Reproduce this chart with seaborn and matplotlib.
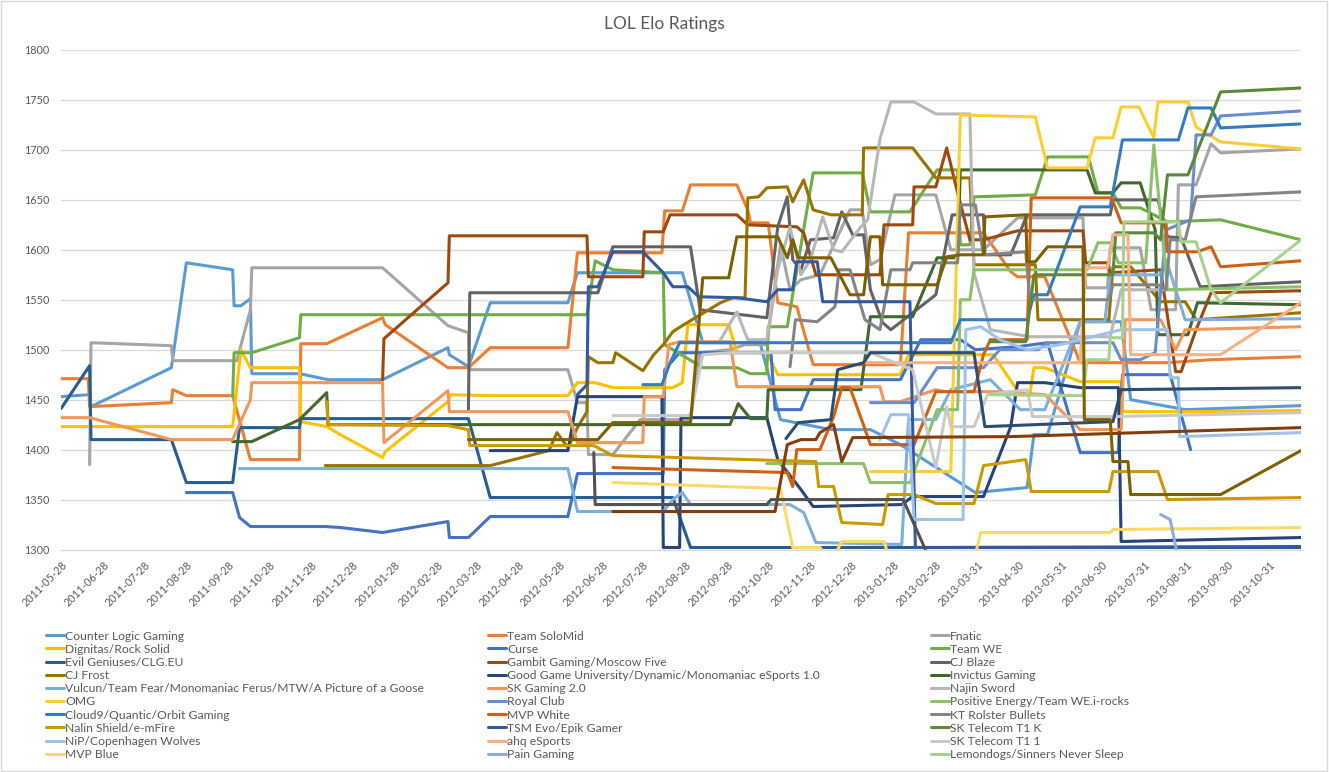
import matplotlib
matplotlib.use("Agg")
import matplotlib.pyplot as plt
import pandas as pd
import seaborn as sns

START = pd.Timestamp("2011-05-28")
END_DAY = 910

# days since 2011-05-28, elo rating
clg_day = [0, 21, 22, 81, 92, 126, 127, 132, 139, 140, 175, 196, 236, 284, 285, 299, 315, 372, 379, 456,
           471, 513, 528, 565, 594, 616, 671, 709, 714, 724, 748, 778, 785, 825, 910]
clg_elo = [1453, 1455, 1443, 1482, 1587, 1580, 1544, 1544, 1551, 1476, 1476, 1470, 1470, 1502, 1495, 1483, 1547,
           1547, 1577, 1577, 1507, 1507, 1430, 1420, 1420, 1405, 1357, 1362, 1415, 1415, 1528, 1528, 1450, 1440, 1444]

tsm_day = [0, 20, 21, 81, 82, 92, 126, 139, 175, 176, 195, 236, 238, 284, 299, 315, 372, 379, 441, 443,
           456, 462, 496, 504, 506, 519, 526, 540, 552, 616, 622, 677, 697, 702, 722, 748, 812, 844, 910]
tsm_elo = [1471, 1471, 1443, 1447, 1460, 1454, 1454, 1390, 1390, 1506, 1506, 1532, 1525, 1482, 1482, 1502, 1502,
           1597, 1597, 1639, 1639, 1665, 1665, 1640, 1627, 1627, 1547, 1543, 1485, 1485, 1617, 1617, 1578, 1573,
           1573, 1487, 1487, 1490, 1493]

fnc_day = [21, 22, 81, 82, 129, 139, 140, 236, 284, 299, 300, 372, 379, 386, 387, 405, 425, 462, 469, 491,
           502, 518, 528, 535, 543, 557, 579, 588, 594, 601, 612, 642, 653, 677, 702, 750, 752, 768, 770, 792,
           800, 818, 820, 833, 844, 851, 910]
fnc_elo = [1385, 1507, 1504, 1489, 1489, 1540, 1582, 1582, 1524, 1517, 1480, 1480, 1447, 1447, 1395, 1395, 1430,
           1430, 1497, 1500, 1505, 1505, 1605, 1560, 1570, 1575, 1640, 1640, 1585, 1590, 1655, 1655, 1600, 1600,
           1632, 1632, 1562, 1562, 1602, 1602, 1540, 1540, 1665, 1665, 1706, 1697, 1701]

dig_day = [0, 126, 132, 139, 175, 176, 195, 205, 236, 238, 284, 286, 315, 372, 379, 392, 405, 449, 456, 460,
           490, 496, 518, 526, 616, 622, 684, 704, 711, 714, 722, 748, 778, 779, 825, 910]
dig_elo = [1423, 1423, 1500, 1482, 1482, 1428, 1423, 1415, 1392, 1398, 1448, 1455, 1454, 1454, 1467, 1467, 1462,
           1462, 1467, 1525, 1525, 1497, 1497, 1475, 1475, 1495, 1495, 1455, 1455, 1482, 1482, 1468, 1468, 1438,
           1438, 1439]

crs_day = [92, 126, 131, 139, 194, 205, 236, 284, 285, 299, 315, 372, 379, 442, 443, 454, 521, 524, 543, 552,
           616, 631, 660, 671, 702, 724, 748, 776, 779, 814, 829]
crs_elo = [1357, 1357, 1332, 1323, 1323, 1322, 1317, 1328, 1312, 1312, 1333, 1333, 1376, 1376, 1480, 1497, 1497,
           1440, 1440, 1470, 1470, 1510, 1510, 1500, 1503, 1507, 1397, 1397, 1475, 1475, 1400]

we_day = [126, 127, 140, 175, 176, 205, 386, 392, 405, 442, 443, 471, 496, 506, 518, 519, 533, 552, 588, 594,
          623, 643, 658, 660, 667, 670, 715, 724, 754, 761, 772, 778, 792, 812, 851, 910]
we_elo = [1453, 1497, 1497, 1512, 1535, 1535, 1535, 1589, 1580, 1577, 1505, 1482, 1482, 1476, 1476, 1523, 1523,
          1677, 1677, 1638, 1638, 1680, 1680, 1605, 1605, 1653, 1655, 1693, 1693, 1657, 1657, 1642, 1642, 1628,
          1630, 1610]

eg_day = [0, 21, 22, 81, 92, 126, 131, 175, 176, 299, 315, 449, 462, 910]
eg_elo = [1441, 1484, 1410, 1410, 1367, 1367, 1422, 1422, 1431, 1431, 1352, 1352, 1302, 1302]

gmb_day = [236, 237, 284, 285, 386, 387, 427, 428, 442, 447, 496, 504, 540, 545, 554, 601, 604, 625, 626, 642,
           650, 658, 667, 677, 702, 750, 752, 768, 770, 807, 818, 822, 833, 844, 910]
gmb_elo = [1470, 1511, 1567, 1614, 1614, 1573, 1573, 1618, 1618, 1635, 1635, 1625, 1623, 1617, 1575, 1575, 1625,
           1625, 1663, 1663, 1702, 1657, 1610, 1610, 1619, 1619, 1587, 1587, 1577, 1580, 1478, 1478, 1520, 1557, 1559]

cjb_day = [299, 300, 394, 405, 462, 469, 518, 526, 533, 537, 543, 550, 567, 573, 581, 589, 594, 603, 609, 642,
           654, 677, 678, 697, 709, 770, 772, 805, 812, 822, 836, 910]
cjb_elo = [1440, 1557, 1557, 1603, 1603, 1540, 1532, 1623, 1653, 1590, 1580, 1610, 1612, 1638, 1615, 1615, 1560,
           1527, 1520, 1555, 1635, 1635, 1595, 1595, 1635, 1635, 1650, 1650, 1613, 1612, 1563, 1568]

cjf_day = [194, 315, 358, 364, 372, 379, 386, 387, 394, 405, 407, 427, 435, 442, 449, 457, 484, 493, 502, 504,
           512, 518, 533, 537, 545, 552, 565, 588, 589, 625, 642, 667, 670, 715, 717, 769, 772, 785, 807, 825,
           833, 910]
cjf_elo = [1384, 1384, 1399, 1417, 1402, 1422, 1438, 1493, 1487, 1487, 1497, 1479, 1495, 1505, 1518, 1525, 1547,
           1552, 1552, 1652, 1653, 1662, 1663, 1648, 1670, 1640, 1635, 1635, 1702, 1702, 1672, 1672, 1585, 1585,
           1530, 1530, 1583, 1583, 1548, 1548, 1530, 1537]

ggu_day = [315, 372, 379, 441, 442, 454, 455, 518, 526, 543, 552, 617, 625, 677, 697, 702, 722, 748, 776, 778, 910]
ggu_elo = [1399, 1399, 1453, 1453, 1302, 1302, 1432, 1432, 1390, 1360, 1343, 1345, 1353, 1353, 1423, 1467, 1467,
           1462, 1462, 1308, 1312]

ig_day = [126, 140, 175, 195, 196, 491, 497, 506, 518, 519, 587, 594, 625, 643, 658, 660, 753, 759, 772, 778,
          792, 803, 805, 827, 834, 910]
ig_elo = [1408, 1408, 1430, 1457, 1425, 1425, 1446, 1431, 1431, 1460, 1460, 1533, 1533, 1592, 1592, 1680, 1680,
          1657, 1657, 1667, 1667, 1620, 1515, 1515, 1547, 1545]

vul_day = [131, 372, 379, 442, 449, 456, 462, 535, 545, 554, 617, 622, 642, 653, 682, 704, 722, 748, 766, 770,
           807, 811, 825, 910]
vul_elo = [1381, 1381, 1338, 1338, 1350, 1357, 1345, 1345, 1337, 1307, 1305, 1430, 1430, 1460, 1470, 1440, 1440,
           1528, 1528, 1575, 1575, 1590, 1530, 1531]

sk2_day = [0, 21, 81, 126, 139, 140, 236, 237, 284, 285, 372, 379, 427, 428, 442, 446, 454, 491, 496, 601,
           604, 616, 642, 649, 689, 722, 748, 778, 781, 807, 818, 825, 910]
sk2_elo = [1432, 1432, 1410, 1410, 1450, 1467, 1467, 1407, 1459, 1438, 1438, 1407, 1407, 1453, 1453, 1505, 1508,
           1508, 1463, 1463, 1448, 1448, 1460, 1458, 1458, 1455, 1420, 1420, 1530, 1530, 1500, 1520, 1523]

njs_day = [484, 496, 504, 518, 526, 535, 543, 550, 559, 567, 573, 587, 592, 601, 609, 626, 642, 667, 670, 682,
           711, 770, 778, 825]
njs_elo = [1510, 1538, 1510, 1510, 1580, 1623, 1575, 1590, 1633, 1600, 1598, 1623, 1630, 1711, 1748, 1748, 1736,
           1736, 1577, 1520, 1513, 1513, 1560, 1560]

omg_day = [594, 653, 660, 715, 724, 753, 759, 772, 778, 791, 802, 805, 827, 833, 851, 910]
omg_elo = [1378, 1378, 1735, 1733, 1682, 1682, 1712, 1712, 1743, 1743, 1712, 1748, 1748, 1723, 1708, 1701]

rc_day = [594, 626, 643, 677, 689, 717, 724, 772, 778, 792, 803, 811, 829, 833, 844, 851, 910]
rc_elo = [1447, 1447, 1482, 1482, 1500, 1500, 1507, 1507, 1490, 1490, 1497, 1620, 1630, 1715, 1715, 1734, 1739]

pe_day = [518, 589, 594, 623, 643, 658, 660, 667, 670, 753, 761, 770, 776, 796, 802, 812, 910]
pe_elo = [1386, 1386, 1367, 1367, 1440, 1440, 1550, 1550, 1580, 1580, 1607, 1607, 1587, 1587, 1705, 1560, 1563]

c9_day = [427, 441, 447, 454, 653, 660, 709, 714, 724, 748, 770, 779, 820, 827, 844, 851, 910]
c9_elo = [1465, 1465, 1487, 1507, 1507, 1530, 1530, 1555, 1555, 1643, 1643, 1710, 1710, 1742, 1742, 1722, 1726]

mvpw_day = [405, 533, 537, 540, 557, 567, 573, 579, 587, 594, 626, 642, 670, 677, 682, 709, 712, 771, 778, 811,
            812, 834, 844, 851, 910]
mvpw_elo = [1382, 1377, 1363, 1400, 1400, 1433, 1462, 1462, 1432, 1405, 1405, 1458, 1458, 1495, 1510, 1510, 1652,
            1652, 1627, 1627, 1598, 1598, 1603, 1583, 1589]

kt_day = [535, 539, 555, 568, 571, 579, 590, 601, 609, 623, 625, 658, 660, 671, 677, 708, 711, 769, 772, 805,
          811, 814, 825, 833, 910]
kt_elo = [1483, 1530, 1528, 1543, 1580, 1580, 1530, 1520, 1580, 1580, 1587, 1587, 1645, 1645, 1595, 1598, 1550,
          1550, 1565, 1565, 1560, 1610, 1610, 1653, 1658]

nal_day = [195, 196, 284, 299, 300, 391, 405, 554, 556, 567, 573, 603, 607, 626, 642, 670, 677, 708, 712, 769,
           772, 805, 812, 910]
nal_elo = [1448, 1425, 1424, 1420, 1404, 1404, 1394, 1388, 1363, 1363, 1327, 1325, 1355, 1355, 1346, 1346, 1384,
           1390, 1358, 1358, 1378, 1378, 1350, 1352]

evo_day = [379, 386, 387, 394, 405, 427, 442, 449, 460, 468, 496, 518, 526, 537, 540, 555, 559, 623, 627, 910]
evo_elo = [1455, 1465, 1563, 1563, 1598, 1598, 1577, 1563, 1563, 1553, 1552, 1548, 1560, 1560, 1588, 1588, 1548,
           1548, 1302, 1303]

sktk_day = [682, 708, 714, 772, 774, 802, 807, 812, 827, 851, 910]
sktk_elo = [1508, 1508, 1575, 1575, 1617, 1617, 1610, 1675, 1675, 1758, 1762]

nip_day = [601, 609, 622, 626, 662, 664, 675, 689, 709, 733, 778, 812, 814, 820, 821, 910]
nip_elo = [1410, 1435, 1435, 1330, 1330, 1520, 1523, 1510, 1500, 1505, 1520, 1520, 1472, 1472, 1413, 1417]

ahq_day = [589, 748, 752, 768, 772, 783, 785, 851, 910]
ahq_elo = [1487, 1487, 1582, 1582, 1615, 1615, 1495, 1495, 1547]

skt1_day = [405, 462, 471, 491, 594, 625, 642, 650, 653, 670, 680, 709, 713, 771, 910]
skt1_elo = [1434, 1434, 1495, 1497, 1497, 1480, 1382, 1443, 1423, 1423, 1455, 1460, 1433, 1433, 1437]

mvpb_day = [405, 528, 537, 557, 561, 568, 573, 604, 607, 671, 675, 770, 772, 910]
mvpb_elo = [1367, 1361, 1302, 1302, 1295, 1295, 1308, 1308, 1295, 1295, 1317, 1317, 1320, 1322]

pain_day = [807, 814, 820]
pain_elo = [1335, 1330, 1290]

ld_day = [682, 750, 753, 769, 770, 779, 780, 820, 822, 833, 844, 851, 910]
ld_elo = [1455, 1454, 1490, 1490, 1512, 1512, 1628, 1628, 1608, 1608, 1560, 1547, 1610]

# series past the 30th, which the legend had no room for
x31_day = [532, 541, 565, 570, 589, 594, 670, 678, 772, 778, 910]
x31_elo = [1411, 1427, 1430, 1480, 1487, 1497, 1497, 1423, 1428, 1460, 1462]
x32_day = [405, 524, 533, 543, 554, 557, 567, 573, 581, 697, 910]
x32_elo = [1338, 1338, 1405, 1410, 1410, 1417, 1425, 1388, 1412, 1413, 1422]
x33_day = [391, 392, 518, 521, 618, 636]
x33_elo = [1397, 1345, 1345, 1350, 1350, 1295]
x34_day = [299, 394, 405, 462, 471, 490, 496, 526, 533, 537, 541, 565, 579, 589, 594, 601, 603, 643, 650, 660,
           677, 678, 708, 709, 715, 724, 750, 751, 770, 772, 783, 785, 851, 910]
x34_elo = [1410, 1410, 1427, 1427, 1572, 1572, 1613, 1613, 1592, 1610, 1592, 1592, 1555, 1555, 1613, 1613, 1565,
           1565, 1593, 1595, 1595, 1633, 1635, 1588, 1588, 1603, 1603, 1430, 1430, 1388, 1388, 1355, 1355, 1399]

teams = [
    ("Counter Logic Gaming", clg_day, clg_elo),
    ("Team SoloMid", tsm_day, tsm_elo),
    ("Fnatic", fnc_day, fnc_elo),
    ("Dignitas/Rock Solid", dig_day, dig_elo),
    ("Curse", crs_day, crs_elo),
    ("Team WE", we_day, we_elo),
    ("Evil Geniuses/CLG.EU", eg_day, eg_elo),
    ("Gambit Gaming/Moscow Five", gmb_day, gmb_elo),
    ("CJ Blaze", cjb_day, cjb_elo),
    ("CJ Frost", cjf_day, cjf_elo),
    ("Good Game University/Dynamic/Monomaniac eSports 1.0", ggu_day, ggu_elo),
    ("Invictus Gaming", ig_day, ig_elo),
    ("Vulcun/Team Fear/Monomaniac Ferus/MTW/A Picture of a Goose", vul_day, vul_elo),
    ("SK Gaming 2.0", sk2_day, sk2_elo),
    ("Najin Sword", njs_day, njs_elo),
    ("OMG", omg_day, omg_elo),
    ("Royal Club", rc_day, rc_elo),
    ("Positive Energy/Team WE.i-rocks", pe_day, pe_elo),
    ("Cloud9/Quantic/Orbit Gaming", c9_day, c9_elo),
    ("MVP White", mvpw_day, mvpw_elo),
    ("KT Rolster Bullets", kt_day, kt_elo),
    ("Nalin Shield/e-mFire", nal_day, nal_elo),
    ("TSM Evo/Epik Gamer", evo_day, evo_elo),
    ("SK Telecom T1 K", sktk_day, sktk_elo),
    ("NiP/Copenhagen Wolves", nip_day, nip_elo),
    ("ahq eSports", ahq_day, ahq_elo),
    ("SK Telecom T1 1", skt1_day, skt1_elo),
    ("MVP Blue", mvpb_day, mvpb_elo),
    ("Pain Gaming", pain_day, pain_elo),
    ("Lemondogs/Sinners Never Sleep", ld_day, ld_elo),
]
extras = [(x31_day, x31_elo), (x32_day, x32_elo), (x33_day, x33_elo), (x34_day, x34_elo)]

tick_labels = [
    "2011-05-28", "2011-06-28", "2011-07-28", "2011-08-28", "2011-09-28", "2011-10-28", "2011-11-28",
    "2011-12-28", "2012-01-28", "2012-02-28", "2012-03-28", "2012-04-28", "2012-05-28", "2012-06-28",
    "2012-07-28", "2012-08-28", "2012-09-28", "2012-10-28", "2012-11-28", "2012-12-28", "2013-01-28",
    "2013-02-28", "2013-03-31", "2013-04-30", "2013-05-31", "2013-06-30", "2013-07-31", "2013-08-31",
    "2013-09-30", "2013-10-31",
]

# Excel 2013 default series colours
palette = [
    "#5B9BD5", "#ED7D31", "#A5A5A5", "#FFC000", "#4472C4", "#70AD47",
    "#255E91", "#9E480E", "#636363", "#997300", "#264478", "#43682B",
    "#7CAFDD", "#F1975A", "#B7B7B7", "#FFCD33", "#698ED0", "#8CC168",
    "#327DC2", "#D26012", "#848484", "#CC9A00", "#335AA1", "#5A8A39",
    "#9DC3E6", "#F4B183", "#C9C9C9", "#FFD966", "#8FAADC", "#A9D18E",
]
extra_colors = ["#2E4E6F", "#843C0C", "#525252", "#7F6000"]

TEXT = "#595959"
GRID = "#D9D9D9"

sns.set_theme(style="white")
plt.rcParams["font.family"] = ["Lato", "DejaVu Sans"]

W, H = 1329, 772
fig = plt.figure(figsize=(W / 100, H / 100), dpi=100)
ax = fig.add_axes([61 / W, 1 - 549.5 / H, (1301 - 61) / W, (549.5 - 50) / H])


def to_dates(days):
    return START + pd.to_timedelta(days, unit="D")


handles = []
for (name, day, elo), color in zip(teams, palette):
    sns.lineplot(x=to_dates(day), y=elo, color=color, lw=2.2, estimator=None, sort=False,
                 ax=ax, legend=False)
    line = ax.lines[-1]
    line.set_solid_joinstyle("round")
    line.set_label(name)
    handles.append(line)

for (day, elo), color in zip(extras, extra_colors):
    sns.lineplot(x=to_dates(day), y=elo, color=color, lw=2.2, estimator=None, sort=False,
                 ax=ax, legend=False)
    ax.lines[-1].set_solid_joinstyle("round")

ax.set_xlim(START, to_dates([END_DAY])[0])
ax.set_ylim(1300, 1800)
ax.set_yticks(range(1300, 1801, 50))
ax.set_xticks(pd.to_datetime(tick_labels))
ax.set_xticklabels(tick_labels, rotation=45, ha="right", rotation_mode="anchor")
ax.set_xlabel("")
ax.set_ylabel("")

ax.yaxis.grid(True, color=GRID, lw=0.9)
ax.xaxis.grid(False)
ax.set_axisbelow(True)
for side in ("left", "top", "right"):
    ax.spines[side].set_visible(False)
ax.spines["bottom"].set_color(GRID)
ax.spines["bottom"].set_linewidth(0.9)
ax.tick_params(axis="x", length=4, width=0.9, color=GRID, labelsize=7.8, labelcolor=TEXT, pad=3, direction="out")
ax.tick_params(axis="y", length=0, labelsize=7.8, labelcolor=TEXT, pad=8)

fig.text(0.5, 1 - 24 / H, "LOL Elo Ratings", ha="center", va="center", fontsize=12.5, color=TEXT)

# Excel lays the legend out in equal-width columns, filled row by row
col_x = [46, 488, 931]
for c in range(3):
    hs = handles[c::3]
    leg = fig.legend(hs, [h.get_label() for h in hs], loc="upper left",
                     bbox_to_anchor=(col_x[c] / W, 1 - 630.5 / H), frameon=False, fontsize=8.7,
                     handlelength=1.45, handletextpad=0.15, labelspacing=0.18, borderpad=0,
                     borderaxespad=0)
    for t in leg.get_texts():
        t.set_color(TEXT)

fig.add_artist(plt.Rectangle((0.0005, 0.001), 0.998, 0.998, transform=fig.transFigure,
                             fill=False, edgecolor=GRID, lw=1))

fig.savefig("out.png", dpi=100)
